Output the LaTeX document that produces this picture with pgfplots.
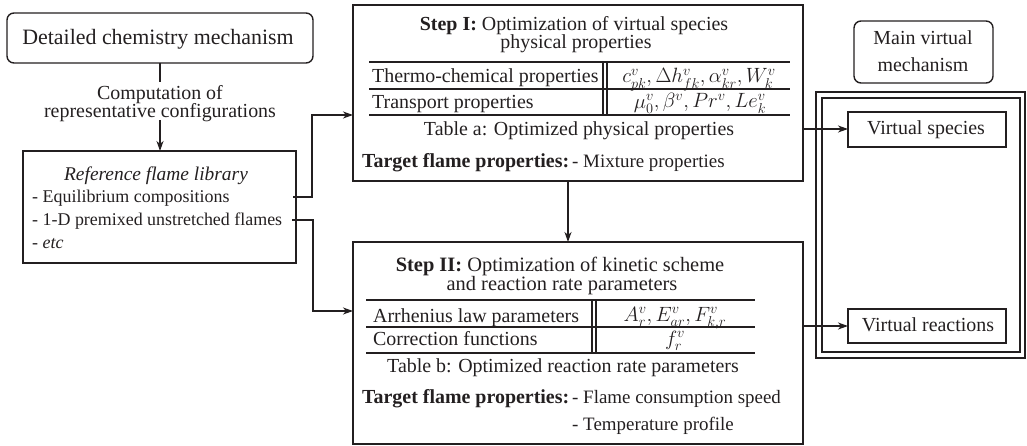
\documentclass[border=0pt]{standalone}
\usepackage{fontspec}
\setmainfont{Liberation Serif}
\usepackage{pgfplots}
\pgfplotsset{compat=1.18}
\usetikzlibrary{arrows.meta}
\definecolor{ink}{HTML}{231F20}
\begin{document}
\begin{tikzpicture}[
  T/.style={inner sep=0pt, text=ink, font=\fontsize{20}{22}\selectfont, anchor=base},
  L/.style={T, anchor=base west},
  S/.style={font=\fontsize{18}{19}\selectfont},
  box/.style={draw=ink, line width=1.4bp},
  rule/.style={draw=ink, line width=1.2bp},
  arr/.style={draw=ink, line width=1.3bp, -{Stealth[length=10bp,width=7bp,inset=3bp]}}
]
\begin{axis}[width=1027bp, height=446bp, scale only axis,
  xmin=0, xmax=1027, ymin=0, ymax=446, y dir=reverse,
  axis lines=none, ticks=none, clip=false]
\addplot[draw=none] coordinates {(0,0) (1027,446)};

% Detailed chemistry mechanism
\draw[box, rounded corners=7bp] (7,13) rectangle (313,63);
\node[T, font=\fontsize{22}{24}\selectfont] at (158,45) {Detailed chemistry mechanism};
\draw[ink, line width=1.3bp] (160,63) -- (160,82);
\node[T] at (160,99) {Computation of};
\node[T] at (160,117) {representative configurations};
\draw[arr] (160,120) -- (160,151);

% Reference flame library
\draw[box] (23,151) rectangle (296,263);
\node[T, font=\fontsize{19.5}{21}\selectfont] at (156,180) {\textit{Reference flame library}};
\node[L, S] at (32,202) {- Equilibrium compositions};
\node[L, S] at (32,225) {- 1-D premixed unstretched flames};
\node[L, S] at (32,248) {- \textit{etc}};
\draw[arr] (293,197) -- (312,197) -- (312,115) -- (353,115);
\draw[arr] (292,220) -- (313,220) -- (313,311) -- (353,311);

% Step I
\draw[box] (353,5) rectangle (803,181);
\node[T] at (574,31) {\textbf{Step I:} Optimization of virtual species};
\node[T] at (576,49) {physical properties};
\draw[rule] (369,62) -- (790,62);
\draw[rule] (369,89) -- (790,89);
\draw[rule] (369,115) -- (790,115);
\draw[rule] (603,62) -- (603,115);
\draw[rule] (607,62) -- (607,115);
\node[L] at (372,83) {Thermo-chemical properties};
\node[T] at (699,83) {$c_{pk}^v, \Delta h_{fk}^v, \alpha_{kr}^v, W_k^v$};
\node[L] at (372,108) {Transport properties};
\node[T] at (700,108) {$\mu_0^v, \beta^v, Pr^v, Le_k^v$};
\node[T] at (579,135) {Table a: Optimized physical properties};
\node[L] at (362,167) {\textbf{Target flame properties:}};
\node[L, font=\fontsize{19}{21}\selectfont] at (572,167) {- Mixture properties};
\draw[arr] (568,181) -- (568,242);

% Step II
\draw[box] (353,242) rectangle (803,444);
\node[T, font=\fontsize{20.5}{22}\selectfont] at (560,271) {\textbf{Step II:} Optimization of kinetic scheme};
\node[T, font=\fontsize{20.5}{22}\selectfont] at (562,290) {and reaction rate parameters};
\draw[rule] (366,300) -- (755,300);
\draw[rule] (366,327) -- (755,327);
\draw[rule] (366,353) -- (755,353);
\draw[rule] (592,300) -- (592,353);
\draw[rule] (596,300) -- (596,353);
\node[L] at (373,322) {Arrhenius law parameters};
\node[T] at (675,321) {$A_r^v, E_{ar}^v, F_{k,r}^v$};
\node[L] at (373,345) {Correction functions};
\node[T] at (675,345) {$f_r^v$};
\node[T] at (563,372) {Table b: Optimized reaction rate parameters};
\node[L] at (362,403) {\textbf{Target flame properties:}};
\node[L, font=\fontsize{19}{21}\selectfont] at (572,403) {- Flame consumption speed};
\node[L, font=\fontsize{19}{21}\selectfont] at (572,430) {- Temperature profile};

% Right side
\draw[arr] (803,129) -- (848,129);
\draw[arr] (803,326) -- (848,326);
\draw[box, rounded corners=7bp] (854,21) rectangle (993,83);
\node[T] at (923,45) {Main virtual};
\node[T] at (923,72) {mechanism};
\draw[box] (816,92) rectangle (1025,358);
\draw[box] (822,98) rectangle (1020,352);
\draw[box] (848,112) rectangle (1006,147);
\node[T] at (926,134) {Virtual species};
\draw[box] (848,309) rectangle (1006,343);
\node[T] at (928,331) {Virtual reactions};
\end{axis}
\end{tikzpicture}
\end{document}
